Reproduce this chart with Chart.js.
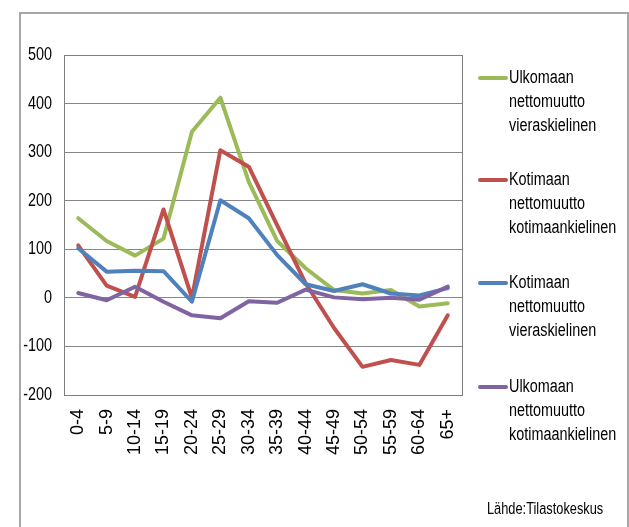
<!DOCTYPE html>
<html>
<head>
<meta charset="utf-8">
<script src="https://cdn.jsdelivr.net/npm/chart.js@4"></script>
<style>
  html, body { margin: 0; padding: 0; background: #fff; }
  #wrap { position: relative; width: 629px; height: 527px; overflow: hidden; }
  #frame { position: absolute; left: 19px; top: 12px; width: 610px; height: 600px; box-sizing: border-box; border: 2px solid #a6a6a6; pointer-events: none; }
  #source { position: absolute; left: 487px; top: 500px; font: 16px 'Liberation Sans', Arial, sans-serif; color: #000; transform: scaleX(0.8); transform-origin: 0 0; white-space: nowrap; }
  canvas { position: absolute; left: 0; top: 0; }
</style>
</head>
<body>
<div id="wrap">
  <canvas id="chart" width="629" height="527"></canvas>
  <div id="frame"></div>
  <div id="source">Lähde:Tilastokeskus</div>
</div>
<script>
// age groups on the x axis
const ageGroups = ['0-4', '5-9', '10-14', '15-19', '20-24', '25-29', '30-34', '35-39', '40-44', '45-49', '50-54', '55-59', '60-64', '65+'];

// net migration by age group
const foreignNetForeignLang = [164, 117, 87, 122, 342, 412, 239, 117, 61, 16, 9, 16, -18, -11];
const domesticNetNativeLang = [108, 25, 2, 182, 0, 304, 270, 149, 30, -62, -142, -128, -138, -36];
const domesticNetForeignLang = [102, 54, 56, 55, -8, 201, 164, 88, 28, 14, 28, 9, 5, 20];
const foreignNetNativeLang = [10, -5, 23, -8, -36, -42, -7, -10, 17, 1, -3, 0, -4, 23];

const seriesLabels = [
  ['Ulkomaan', 'nettomuutto', 'vieraskielinen'],
  ['Kotimaan', 'nettomuutto', 'kotimaankielinen'],
  ['Kotimaan', 'nettomuutto', 'vieraskielinen'],
  ['Ulkomaan', 'nettomuutto', 'kotimaankielinen']
];
const seriesColors = ['#9bbb59', '#c0504d', '#4f81bd', '#8064a2'];

const baseFont = "'Liberation Sans', Arial, sans-serif";
const squeeze = 0.8; // the original text is horizontally condensed

function makeSet(i, data) {
  return {
    label: seriesLabels[i].join(' '),
    data: data,
    borderColor: seriesColors[i],
    backgroundColor: seriesColors[i],
    borderWidth: 4,
    pointRadius: 0,
    tension: 0,
    borderJoinStyle: 'round',
    borderCapStyle: 'round',
    order: 4 - i
  };
}

// border round the plot area
const plotFrame = {
  id: 'plotFrame',
  afterDatasetsDraw(chart) {
    const a = chart.chartArea, ctx = chart.ctx;
    ctx.save();
    ctx.strokeStyle = '#7f7f7f';
    ctx.lineWidth = 1;
    ctx.strokeRect(Math.round(a.left) + 0.5, Math.round(a.top) + 0.5, Math.round(a.right - a.left), Math.round(a.bottom - a.top));
    ctx.restore();
  }
};

// condensed y tick labels, positioned by the y scale
const yLabels = {
  id: 'yLabels',
  afterDraw(chart) {
    const scale = chart.scales.y, ctx = chart.ctx;
    ctx.save();
    ctx.font = '18px ' + baseFont;
    ctx.fillStyle = '#000';
    ctx.textAlign = 'right';
    ctx.textBaseline = 'middle';
    scale.ticks.forEach(t => {
      ctx.save();
      ctx.translate(chart.chartArea.left - 12, scale.getPixelForValue(t.value));
      ctx.scale(squeeze, 1);
      ctx.fillText(String(t.value), 0, 0);
      ctx.restore();
    });
    ctx.restore();
  }
};

// legend on the right, three lines per entry
const sideLegend = {
  id: 'sideLegend',
  afterDraw(chart) {
    const ctx = chart.ctx;
    ctx.save();
    ctx.font = '18px ' + baseFont;
    ctx.textBaseline = 'middle';
    ctx.fillStyle = '#000';
    const tops = [78, 180, 283, 387];
    chart.data.datasets.forEach((ds, i) => {
      const y = tops[i];
      ctx.strokeStyle = ds.borderColor;
      ctx.lineWidth = 4;
      ctx.lineCap = 'round';
      ctx.beginPath();
      ctx.moveTo(480, y);
      ctx.lineTo(506, y);
      ctx.stroke();
      seriesLabels[i].forEach((line, j) => {
        ctx.save();
        ctx.translate(509, y + j * 24);
        ctx.scale(squeeze, 1);
        ctx.fillText(line, 0, 0);
        ctx.restore();
      });
    });
    ctx.restore();
  }
};

new Chart(document.getElementById('chart'), {
  type: 'line',
  data: {
    labels: ageGroups,
    datasets: [
      makeSet(0, foreignNetForeignLang),
      makeSet(1, domesticNetNativeLang),
      makeSet(2, domesticNetForeignLang),
      makeSet(3, foreignNetNativeLang)
    ]
  },
  options: {
    responsive: false,
    animation: false,
    layout: { padding: { top: 55, right: 167, bottom: 0, left: 0 } },
    plugins: { legend: { display: false }, tooltip: { enabled: false } },
    scales: {
      x: {
        offset: true,
        grid: { display: false, drawTicks: false },
        border: { display: true, color: '#7f7f7f' },
        ticks: {
          autoSkip: false,
          maxRotation: 90,
          minRotation: 90,
          padding: 14,
          color: '#000',
          font: { family: baseFont, size: 18 }
        },
        afterFit(scale) { scale.height = 132; }
      },
      y: {
        min: -200,
        max: 500,
        grid: { color: '#868686', drawTicks: false },
        border: { display: true, color: '#7f7f7f' },
        ticks: { stepSize: 100, display: false },
        afterFit(scale) { scale.width = 64; }
      }
    }
  },
  plugins: [plotFrame, yLabels, sideLegend]
});
</script>
</body>
</html>
